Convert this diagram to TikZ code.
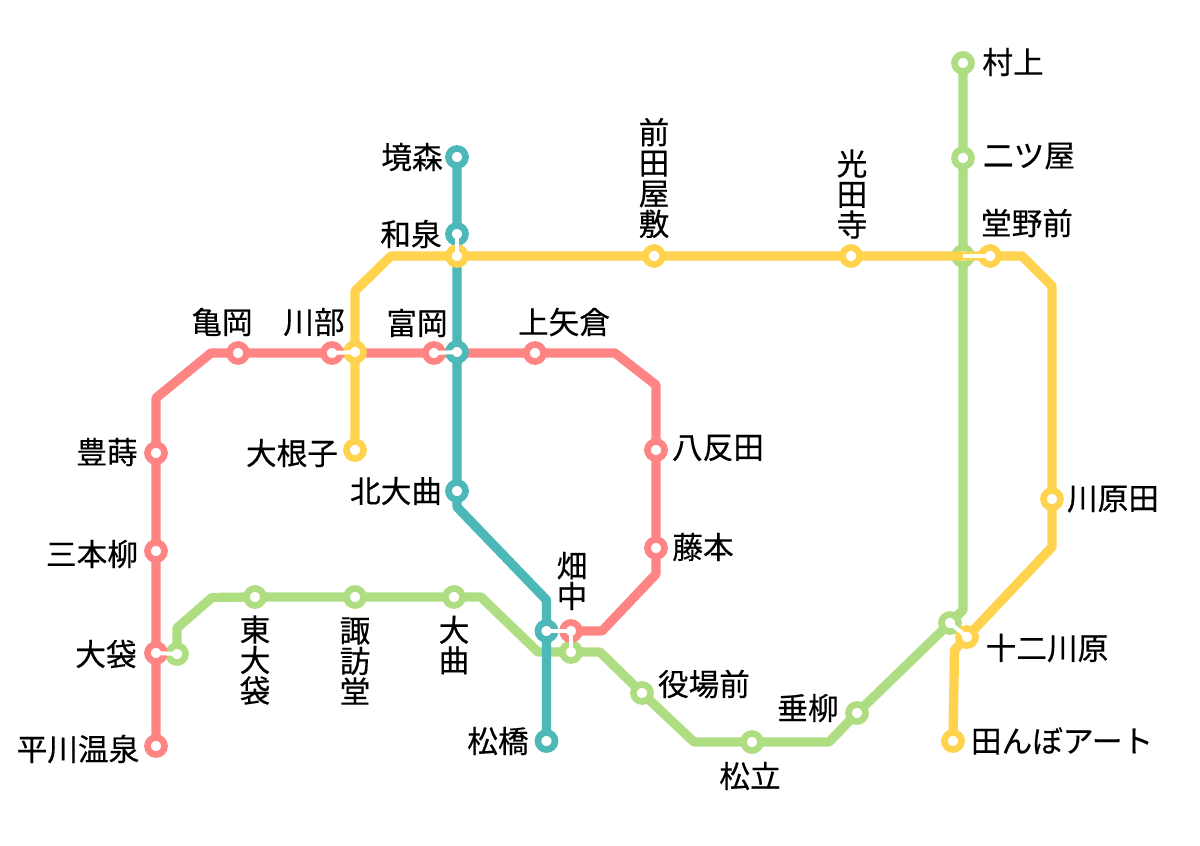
\documentclass[tikz,border=0pt]{standalone}
\usepackage{fontspec}
\setmainfont[FakeBold=0.4]{Noto Sans CJK JP}
\pgfdeclarelayer{g1}\pgfdeclarelayer{g2}\pgfdeclarelayer{r1}\pgfdeclarelayer{r2}
\pgfdeclarelayer{t1}\pgfdeclarelayer{t2}\pgfdeclarelayer{y1}\pgfdeclarelayer{y2}
\pgfsetlayers{g1,g2,r1,r2,t1,t2,y1,y2,main}
\definecolor{lg}{HTML}{AEDD82}
\definecolor{lr}{HTML}{FF8484}
\definecolor{lt}{HTML}{4DB8B8}
\definecolor{ly}{HTML}{FFD34D}
\tikzset{
 line/.style={line width=7pt,line join=round},
 st/.style={circle,fill=white,line width=5pt,inner sep=0pt,minimum size=12.8pt,outer sep=0pt},
 link/.style={white,line width=3pt},
 lb/.style={font=\fontsize{23pt}{25pt}\selectfont,text=black,inner sep=0pt,align=center},
 vlb/.style={font=\fontsize{23pt}{22.9pt}\selectfont,text=black,inner sep=0pt,align=center}
}
\begin{document}
\begin{tikzpicture}[x=0.75pt,y=-0.75pt]
\useasboundingbox (0,0) rectangle (1200,846);
% green
\begin{pgfonlayer}{g2}
\node[st,draw=lg] (murakami) at (963,63) {};
\node[st,draw=lg] (nitsuya) at (963,158) {};
\node[st,draw=lg] (donoG) at (963,256) {};
\node[st,draw=lg] (juniG) at (950,623) {};
\node[st,draw=lg] (tareyanagi) at (857,713) {};
\node[st,draw=lg] (matsudate) at (752,742) {};
\node[st,draw=lg] (yakuba) at (642,693) {};
\node[st,draw=lg] (hataG) at (571,652) {};
\node[st,draw=lg] (omagari) at (454,597) {};
\node[st,draw=lg] (suwado) at (355,597) {};
\node[st,draw=lg] (higashi) at (255,597) {};
\node[st,draw=lg] (ofukuroG) at (177,654) {};
\end{pgfonlayer}
\coordinate (g1) at (963,610);
\coordinate (g2) at (829,742);
\coordinate (g3) at (694,742);
\coordinate (g4) at (600,652);
\coordinate (g5) at (538,652);
\coordinate (g6) at (481,597);
\coordinate (g7) at (212,597.5);
\coordinate (g8) at (177,628);
\begin{pgfonlayer}{g1}
\draw[line,lg] (murakami.center) -- (nitsuya.center) -- (donoG.center) -- (g1) -- (juniG.center) -- (tareyanagi.center) -- (g2) -- (matsudate.center) -- (g3) -- (yakuba.center) -- (g4) -- (hataG.center) -- (g5) -- (g6) -- (omagari.center) -- (suwado.center) -- (higashi.center) -- (g7) -- (g8) -- (ofukuroG.center);
\end{pgfonlayer}
% red
\begin{pgfonlayer}{r2}
\node[st,draw=lr] (hirakawa) at (156,746) {};
\node[st,draw=lr] (ofukuroR) at (156,653) {};
\node[st,draw=lr] (sanbongi) at (156,551) {};
\node[st,draw=lr] (toyomaki) at (156,453) {};
\node[st,draw=lr] (kameoka) at (238,353) {};
\node[st,draw=lr] (kawabeR) at (332,353) {};
\node[st,draw=lr] (tomiokaR) at (434,353) {};
\node[st,draw=lr] (kamiyagura) at (535,353) {};
\node[st,draw=lr] (hattanda) at (656,450) {};
\node[st,draw=lr] (fujimoto) at (656,548) {};
\node[st,draw=lr] (hataR) at (571,631) {};
\end{pgfonlayer}
\coordinate (r1) at (156,398);
\coordinate (r2) at (211,353);
\coordinate (r3) at (615,353);
\coordinate (r4) at (656,385);
\coordinate (r5) at (656,574);
\coordinate (r6) at (602,631);
\begin{pgfonlayer}{r1}
\draw[line,lr] (hirakawa.center) -- (ofukuroR.center) -- (sanbongi.center) -- (toyomaki.center) -- (r1) -- (r2) -- (kameoka.center) -- (kawabeR.center) -- (tomiokaR.center) -- (kamiyagura.center) -- (r3) -- (r4) -- (hattanda.center) -- (fujimoto.center) -- (r5) -- (r6) -- (hataR.center);
\end{pgfonlayer}
% teal
\begin{pgfonlayer}{t2}
\node[st,draw=lt] (sakaimori) at (457,157) {};
\node[st,draw=lt] (izumi) at (457,234) {};
\node[st,draw=lt] (tomiokaT) at (457,352) {};
\node[st,draw=lt] (kitaomagari) at (457,491) {};
\node[st,draw=lt] (hataT) at (546.5,631) {};
\node[st,draw=lt] (matsuhashi) at (546.5,741) {};
\end{pgfonlayer}
\coordinate (t1) at (457,507);
\coordinate (t2) at (546.5,600);
\begin{pgfonlayer}{t1}
\draw[line,lt] (sakaimori.center) -- (izumi.center) -- (tomiokaT.center) -- (kitaomagari.center) -- (t1) -- (t2) -- (hataT.center) -- (matsuhashi.center);
\end{pgfonlayer}
% yellow
\begin{pgfonlayer}{y2}
\node[st,draw=ly] (ohneko) at (355,450) {};
\node[st,draw=ly] (kawabeY) at (355,352) {};
\node[st,draw=ly] (izumiY) at (457,256) {};
\node[st,draw=ly] (maeda) at (654,256) {};
\node[st,draw=ly] (mitsuda) at (851,256) {};
\node[st,draw=ly] (dono) at (990,256) {};
\node[st,draw=ly] (kawarada) at (1052,499) {};
\node[st,draw=ly] (juniY) at (967,637) {};
\node[st,draw=ly] (tanbo) at (953,741) {};
\end{pgfonlayer}
\coordinate (y1) at (355,291);
\coordinate (y2) at (391,256);
\coordinate (y3) at (1022,256);
\coordinate (y4) at (1052,286);
\coordinate (y5) at (1052,547);
\coordinate (y6) at (954.5,650);
\begin{pgfonlayer}{y1}
\draw[line,ly] (ohneko.center) -- (kawabeY.center) -- (y1) -- (y2) -- (izumiY.center) -- (maeda.center) -- (mitsuda.center) -- (dono.center) -- (y3) -- (y4) -- (kawarada.center) -- (y5) -- (juniY.center) -- (y6) -- (tanbo.center);
\end{pgfonlayer}
% transfer links
\draw[link] (ofukuroR.center) -- (ofukuroG.center);
\draw[link] (kawabeR.center) -- (kawabeY.center);
\draw[link] (tomiokaR.center) -- (tomiokaT.center);
\draw[link] (izumi.center) -- (izumiY.center);
\draw[link] (donoG.center) -- (dono.center);
\draw[link] (juniG.center) -- (juniY.center);
\draw[link] (hataT.center) -- (hataR.center);
\draw[link] (hataR.center) -- (hataG.center);
% labels
\node[lb] (l01) at (1013,62) {村上};
\node[lb] (l02) at (1029,156) {二ツ屋};
\node[lb] (l03) at (1027,223) {堂野前};
\node[lb] (l04) at (1113,499) {川原田};
\node[lb] (l05) at (1047,648) {十二川原};
\node[lb] (l06) at (1062,741) {田んぼアート};
\node[lb] (l07) at (808,708) {垂柳};
\node[lb] (l08) at (750,776) {松立};
\node[lb] (l09) at (704,684) {役場前};
\node[vlb] (l10) at (572,581) {畑\\中};
\node[vlb] (l11) at (454,645) {大\\曲};
\node[vlb] (l12) at (355,661) {諏\\訪\\堂};
\node[vlb] (l13) at (255,660) {東\\大\\袋};
\node[lb] (l14) at (106,654) {大袋};
\node[lb] (l15) at (78,749) {平川温泉};
\node[lb] (l16) at (92,554) {三本柳};
\node[lb] (l17) at (107,452) {豊蒔};
\node[lb] (l18) at (222,322) {亀岡};
\node[lb] (l19) at (314,322) {川部};
\node[lb] (l20) at (417,323) {富岡};
\node[lb] (l21) at (564,322) {上矢倉};
\node[lb] (l22) at (718,448) {八反田};
\node[lb] (l23) at (703,547) {藤本};
\node[lb] (l24) at (292,453) {大根子};
\node[lb] (l25) at (396,491) {北大曲};
\node[lb] (l26) at (412,157) {境森};
\node[lb] (l27) at (411,234) {和泉};
\node[lb] (l28) at (498,741) {松橋};
\node[vlb] (l29) at (654,178) {前\\田\\屋\\敷};
\node[vlb] (l30) at (852,194) {光\\田\\寺};
\end{tikzpicture}
\end{document}
